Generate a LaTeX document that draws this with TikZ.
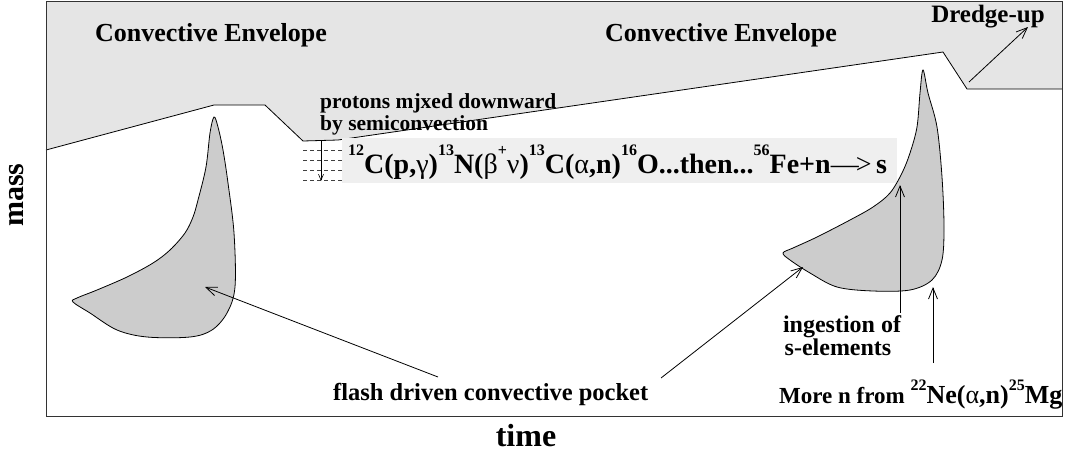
\documentclass[tikz,border=0pt]{standalone}
\usepackage{fontspec}
\setmainfont{Liberation Serif}
\usetikzlibrary{arrows.meta}
\definecolor{envgrey}{HTML}{E5E5E5}
\definecolor{pocketgrey}{HTML}{CCCCCC}
\definecolor{stripgrey}{HTML}{EFEFEF}
\newcommand{\fsz}[1]{\fontsize{#1}{#1}\selectfont}
\newcommand{\gr}[1]{{\mdseries #1}}
\newcommand{\supR}[1]{\raisebox{17.5pt}{\fsz{16}#1}}
\newcommand{\supM}[1]{\raisebox{13pt}{\fsz{16}#1}}
\begin{document}
\begin{tikzpicture}[x=1pt,y=-1pt,
  lbl/.style={font=\bfseries, inner sep=0pt},
  arr/.style={-{Straight Barb[length=11pt,width=9pt]}, line width=0.8pt},
  smallarr/.style={-{Straight Barb[length=6pt,width=5pt]}, line width=0.6pt},
  pocket/.style={fill=pocketgrey, draw=black, line width=0.8pt},
  dashline/.style={dashed, dash pattern=on 4pt off 3pt, line width=0.5pt, draw=black!75},
]
\useasboundingbox (0,0) rectangle (1068,456);

% convective envelope
\fill[envgrey] (46,1) -- (46,150) -- (214,105) -- (265,105) -- (303,141) -- (338,140)
  -- (943,52) -- (967,89) -- (1062,89) -- (1062,1) -- cycle;
\draw[line width=0.8pt] (46,150) -- (214,105) -- (265,105) -- (303,141) -- (338,140)
  -- (943,52) -- (967,89) -- (1062,89);

% reaction strip
\node[fill=stripgrey, inner sep=0pt, minimum width=555pt, minimum height=45pt, anchor=north west] (strip) at (342,138) {};

% dashed mixing lines
\foreach \yy in {150,160,170,180}{
  \draw[dashline] (303,\yy) -- (342,\yy);
}
\coordinate (pA) at (321,141);
\coordinate (pB) at (321,181);
\draw[smallarr] (pA) -- (pB);

% pockets
\draw[pocket] plot[smooth cycle, tension=0.55] coordinates {
  (214,117) (218,127) (223,150) (228,183) (234,233) (235,287) (227,313) (212,330)
  (190,337) (147,337) (117,330) (90,313) (73,302) (77,298) (97,290) (127,277)
  (153,263) (170,250) (185,233) (193,217) (198,200) (206,167) (210,133)};
\draw[pocket] plot[smooth cycle, tension=0.55] coordinates {
  (923,70) (928,93) (937,127) (942,177) (944,227) (942,260) (932,280) (910,290)
  (873,291) (837,287) (810,273) (790,260) (783,253) (793,248) (817,237) (850,220)
  (873,207) (890,193) (902,173) (910,153) (917,127) (920,93)};

% frame
\draw[line width=1pt, draw=black!80] (46,1) rectangle (1062,416);

% labels
\node[lbl, anchor=base] (ce1) at (211,41) {\fsz{26}Convective Envelope};
\node[lbl, anchor=base] (ce2) at (721,41) {\fsz{26}Convective Envelope};
\node[lbl, anchor=base] (dr) at (988,22) {\fsz{25}Dredge-up};
\node[lbl, anchor=base west] (pr1) at (320,108) {\fsz{21.5}protons mjxed downward};
\node[lbl, anchor=base west] (pr2) at (320,130) {\fsz{21.5}by semiconvection};
\node[lbl, anchor=base west] (rx) at (348,173) {\fsz{28}\supR{12}C(p,\gr{γ})\supR{13}N(\gr{β}\supR{+}\gr{ν})\supR{13}C(\gr{α},n)\supR{16}O...then...\supR{56}Fe+n\gr{—\kern-3pt>}\,s};
\node[lbl, anchor=base] (ing1) at (842,332) {\fsz{24}ingestion of};
\node[lbl, anchor=base] (ing2) at (838,355) {\fsz{24}s-elements};
\node[lbl, anchor=base west] (more) at (779,403) {\fsz{23}More n from \supM{22}\fsz{26}Ne(\gr{α},n)\supM{25}Mg};
\node[lbl, anchor=base west] (flash) at (333,400) {\fsz{24.5}flash driven convective pocket};
\node[lbl, anchor=base] (time) at (526,446) {\fsz{32}time};
\node[lbl, rotate=90] (mass) at (17,195) {\fsz{30}mass};

% arrows
\coordinate (dA) at (969,82);
\coordinate (dB) at (1028,27);
\draw[arr] (dA) -- (dB);
\coordinate (fL) at (438,377);
\coordinate (pkL) at (205,287);
\draw[arr] (fL) -- (pkL);
\coordinate (fR) at (661,378);
\coordinate (pkR) at (803,267);
\draw[arr] (fR) -- (pkR);
\coordinate (iA) at (900,313);
\coordinate (iB) at (900,185);
\draw[arr] (iA) -- (iB);
\coordinate (mA) at (933,363);
\coordinate (mB) at (933,287);
\draw[arr] (mA) -- (mB);
\end{tikzpicture}
\end{document}
